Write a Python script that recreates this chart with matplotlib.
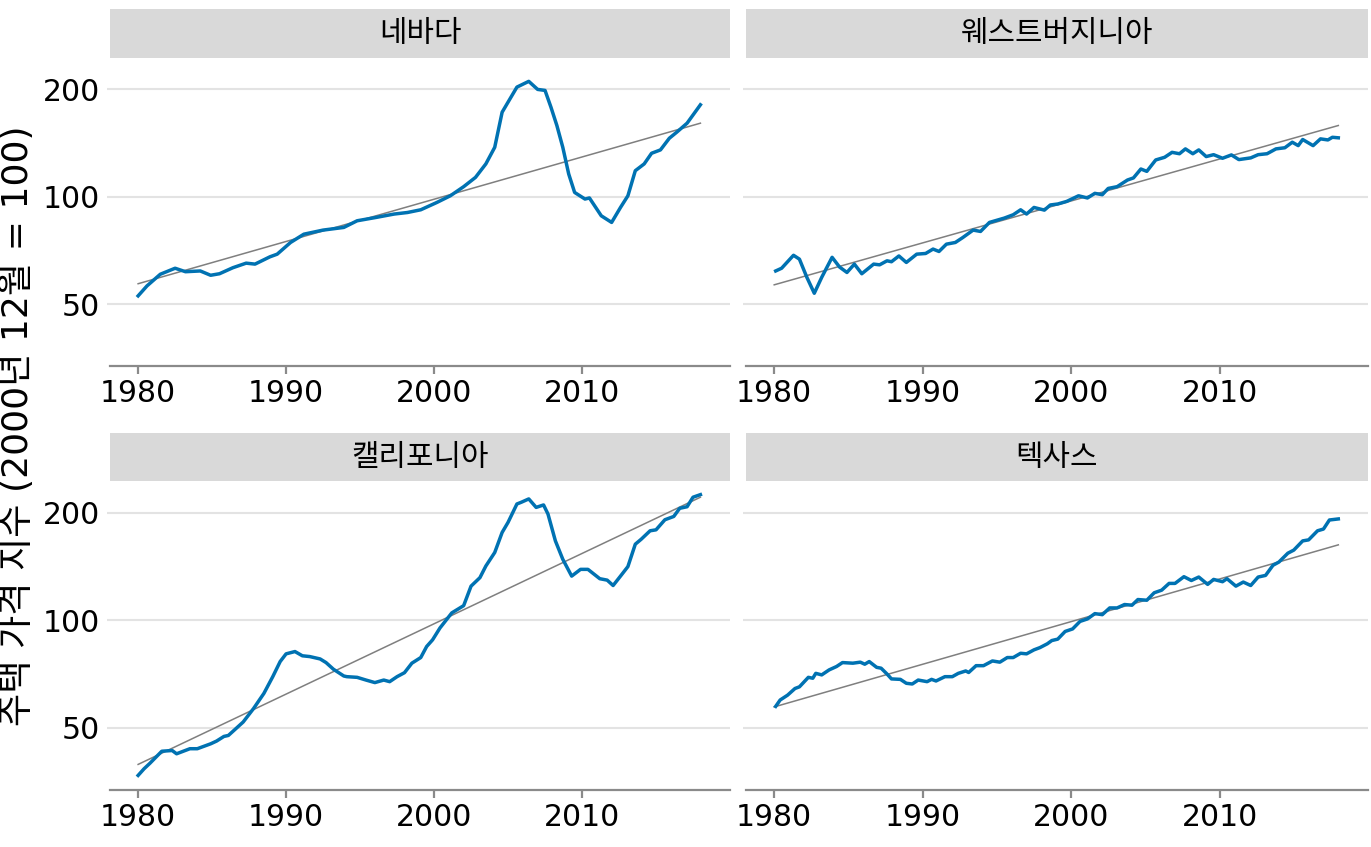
import matplotlib
matplotlib.use("Agg")
import matplotlib.pyplot as plt
from matplotlib.ticker import FixedLocator, NullLocator

# ---------------- data ----------------
states = ["네바다", "웨스트버지니아", "캘리포니아", "텍사스"]

nv_year = [1980.0, 1980.6, 1981.5, 1982.5, 1983.2, 1984.2, 1984.9, 1985.5, 1986.4, 1987.3,
           1987.9, 1988.9, 1989.4, 1990.3, 1991.2, 1992.5, 1993.9, 1994.8, 1996.1, 1997.3,
           1998.2, 1999.1, 2000.2, 2001.1, 2002.0, 2002.8, 2003.5, 2004.1, 2004.6, 2005.0,
           2005.6, 2006.4, 2007.0, 2007.5, 2007.9, 2008.3, 2008.7, 2009.1, 2009.5, 2010.2,
           2010.5, 2011.3, 2012.0, 2012.6, 2013.1, 2013.6, 2014.2, 2014.7, 2015.3, 2015.9,
           2016.4, 2017.1, 2018.0]
nv_index = [52.7, 56.2, 60.6, 63.0, 61.6, 61.9, 60.2, 60.8, 63.2, 65.1,
            64.7, 67.8, 69.0, 74.4, 78.5, 80.6, 82.0, 85.6, 87.5, 89.4,
            90.3, 91.9, 96.4, 100.6, 106.7, 113.3, 123.6, 137.6, 172.6, 184.2,
            203.0, 210.7, 200.0, 198.7, 178.3, 158.4, 137.6, 115.8, 102.8, 98.5,
            99.2, 88.4, 84.7, 93.3, 100.6, 118.3, 123.6, 132.4, 135.3, 145.9,
            151.7, 160.8, 181.1]

wv_year = [1980.1, 1980.5, 1981.3, 1981.7, 1982.2, 1982.7, 1983.2, 1983.9, 1984.4, 1984.9,
           1985.4, 1985.9, 1986.7, 1987.1, 1987.6, 1987.9, 1988.4, 1988.9, 1989.6, 1990.2,
           1990.7, 1991.1, 1991.6, 1992.2, 1992.7, 1993.4, 1993.9, 1994.5, 1995.5, 1996.1,
           1996.6, 1997.0, 1997.5, 1998.2, 1998.6, 1999.1, 1999.7, 2000.5, 2001.1, 2001.6,
           2002.1, 2002.5, 2003.1, 2003.8, 2004.2, 2004.7, 2005.1, 2005.7, 2006.3, 2006.8,
           2007.3, 2007.7, 2008.2, 2008.6, 2009.1, 2009.6, 2010.2, 2010.8, 2011.3, 2012.1,
           2012.6, 2013.2, 2013.8, 2014.4, 2014.9, 2015.3, 2015.6, 2016.3, 2016.8, 2017.3,
           2017.6, 2018.0]
wv_index = [61.9, 63.0, 68.5, 66.8, 59.4, 53.6, 59.4, 67.6, 63.5, 61.3,
            64.7, 60.8, 64.7, 64.4, 66.1, 65.7, 68.2, 65.4, 69.0, 69.3,
            71.3, 70.2, 73.6, 74.4, 76.8, 80.6, 79.9, 84.7, 87.1, 89.0,
            91.9, 89.4, 93.3, 91.7, 94.8, 95.4, 97.0, 100.6, 99.2, 102.2,
            101.3, 105.5, 106.7, 111.4, 112.9, 119.6, 117.8, 126.8, 129.0, 133.2,
            132.0, 136.2, 132.0, 135.3, 129.6, 131.2, 128.2, 131.0, 127.1, 128.5,
            131.2, 132.0, 136.2, 137.2, 142.2, 139.1, 144.7, 139.1, 145.3, 144.3,
            146.8, 146.3]

ca_year = [1980.0, 1980.4, 1980.8, 1981.6, 1982.3, 1982.6, 1983.5, 1984.0, 1984.9, 1985.3,
           1985.8, 1986.1, 1986.6, 1987.1, 1987.8, 1988.5, 1989.1, 1989.6, 1990.0, 1990.6,
           1991.1, 1991.6, 1992.3, 1992.7, 1993.2, 1993.9, 1994.1, 1994.8, 1995.4, 1996.0,
           1996.6, 1997.0, 1997.5, 1998.0, 1998.5, 1999.1, 1999.5, 1999.9, 2000.4, 2001.2,
           2002.0, 2002.5, 2003.1, 2003.5, 2004.1, 2004.6, 2005.0, 2005.6, 2005.9, 2006.4,
           2006.9, 2007.4, 2007.7, 2008.2, 2008.7, 2009.3, 2009.9, 2010.4, 2011.2, 2011.7,
           2012.1, 2012.6, 2013.1, 2013.6, 2014.0, 2014.6, 2015.0, 2015.6, 2016.2, 2016.6,
           2017.1, 2017.5, 2018.0]
ca_index = [36.8, 38.4, 39.8, 43.0, 43.2, 42.3, 43.7, 43.7, 45.1, 45.9,
            47.3, 47.6, 49.7, 51.9, 56.6, 62.4, 69.5, 76.6, 80.5, 81.7,
            79.5, 79.1, 77.9, 76.1, 72.9, 69.8, 69.5, 69.2, 68.0, 66.9,
            68.0, 67.3, 69.5, 71.3, 75.8, 78.6, 84.4, 88.1, 95.1, 104.8,
            109.8, 124.5, 131.5, 141.7, 154.6, 175.9, 187.7, 211.3, 213.7, 218.3,
            206.7, 210.0, 198.0, 166.6, 148.0, 132.8, 138.7, 138.7, 130.6, 129.4,
            125.0, 132.8, 141.2, 163.1, 168.4, 177.8, 178.9, 190.9, 195.0, 205.5,
            207.6, 220.7, 224.4]

tx_year = [1980.1, 1980.4, 1980.9, 1981.4, 1981.7, 1982.3, 1982.6, 1982.8, 1983.2, 1983.7,
           1984.2, 1984.6, 1985.3, 1985.8, 1986.1, 1986.4, 1986.9, 1987.2, 1987.6, 1987.9,
           1988.5, 1988.9, 1989.3, 1989.7, 1990.3, 1990.6, 1990.9, 1991.5, 1992.0, 1992.4,
           1992.9, 1993.1, 1993.6, 1994.1, 1994.7, 1995.2, 1995.7, 1996.1, 1996.6, 1997.0,
           1997.5, 1997.9, 1998.4, 1998.7, 1999.1, 1999.6, 2000.1, 2000.6, 2001.1, 2001.6,
           2002.1, 2002.6, 2003.1, 2003.6, 2004.1, 2004.5, 2005.1, 2005.6, 2006.1, 2006.6,
           2007.0, 2007.6, 2008.1, 2008.6, 2009.2, 2009.6, 2010.2, 2010.5, 2011.1, 2011.6,
           2012.1, 2012.6, 2013.1, 2013.6, 2014.0, 2014.6, 2015.0, 2015.6, 2016.0, 2016.6,
           2017.0, 2017.4, 2018.0]
tx_index = [57.4, 59.8, 61.7, 64.4, 65.1, 69.2, 68.8, 71.0, 70.3, 72.6,
            74.2, 76.1, 75.8, 76.3, 75.3, 76.6, 73.8, 73.4, 70.7, 68.5,
            68.3, 66.6, 66.3, 68.0, 67.3, 68.3, 67.6, 69.5, 69.5, 71.0,
            72.1, 71.4, 74.6, 74.6, 76.9, 76.3, 78.6, 78.6, 80.8, 80.5,
            82.6, 83.8, 85.9, 87.7, 88.5, 93.0, 94.5, 99.2, 100.8, 104.3,
            103.6, 108.2, 108.2, 110.6, 110.1, 114.2, 113.7, 119.3, 121.3, 126.7,
            126.7, 132.3, 129.1, 132.0, 125.9, 130.0, 128.1, 130.6, 124.5, 127.8,
            125.0, 132.0, 133.4, 142.4, 145.4, 153.9, 157.0, 166.6, 167.7, 177.8,
            179.8, 190.6, 191.9]

trend_years = [1980.0, 2018.0]
trend_start = [57.0, 56.6, 39.5, 57.2]
trend_end = [160.8, 158.4, 220.7, 162.4]

y_ticks = [50, 100, 200]
y_tick_labels = ["50", "100", "200"]
x_ticks = [1980, 1990, 2000, 2010]
x_tick_labels = ["1980", "1990", "2000", "2010"]
y_label = "주택 가격 지수 (2000년 12월 = 100)"

series = [(nv_year, nv_index), (wv_year, wv_index), (ca_year, ca_index), (tx_year, tx_index)]

# ---------------- layout ----------------
W, H = 1371, 847
fig = plt.figure(figsize=(W / 100, H / 100), dpi=100)

KR = ["Noto Sans CJK KR", "DejaVu Sans"]
LAT_KR = ["DejaVu Sans", "Noto Sans CJK KR"]
FS = 21.5

def box(l, t, r, b):
    return [l / W, 1 - b / H, (r - l) / W, (b - t) / H]

panels = [(110, 58, 730, 366), (746, 58, 1368, 366),
          (110, 481, 730, 790), (746, 481, 1368, 790)]
strips = [(110, 9, 730, 58), (746, 9, 1368, 58),
          (110, 433, 730, 481), (746, 433, 1368, 481)]

blue = "#0072B2"
grid_c = "#e3e3e3"
axis_c = "#8a8a8a"

for i, (name, (yrs, vals)) in enumerate(zip(states, series)):
    ax = fig.add_axes(box(*panels[i]))
    ax.set_yscale("log")
    ax.plot(trend_years, [trend_start[i], trend_end[i]], color="#7f7f7f", lw=1.1, zorder=2)
    ax.plot(yrs, vals, color=blue, lw=2.5, zorder=3, solid_joinstyle="round")
    ax.set_xlim(1978.1, 2020.0)
    ax.set_ylim(33.5, 245)
    ax.yaxis.set_major_locator(FixedLocator(y_ticks))
    ax.yaxis.set_minor_locator(NullLocator())
    ax.xaxis.set_major_locator(FixedLocator(x_ticks))
    ax.xaxis.set_minor_locator(NullLocator())
    ax.set_xticklabels(x_tick_labels)
    if i % 2 == 0:
        ax.set_yticklabels(y_tick_labels)
    else:
        ax.set_yticklabels([])
    ax.grid(axis="y", color=grid_c, lw=1.5, zorder=0)
    ax.grid(axis="x", visible=False)
    for s in ["top", "right", "left"]:
        ax.spines[s].set_visible(False)
    ax.spines["bottom"].set_color(axis_c)
    ax.spines["bottom"].set_linewidth(1.6)
    ax.tick_params(axis="x", colors=axis_c, length=5.5, width=1.6, labelsize=FS,
                   labelcolor="black", pad=4)
    ax.tick_params(axis="y", colors=grid_c, length=2, width=1.5, labelsize=FS,
                   labelcolor="black", pad=5)
    ax.set_facecolor("white")

    sax = fig.add_axes(box(*strips[i]))
    sax.set_facecolor("#d9d9d9")
    sax.set_xticks([]); sax.set_yticks([])
    for s in sax.spines.values():
        s.set_visible(False)
    sax.text(0.5, 0.5, name, ha="center", va="center", fontsize=FS,
             family=KR, transform=sax.transAxes)

fig.text(18 / W, 1 - 426 / H, y_label, rotation=90, ha="center", va="center",
         fontsize=26, family=LAT_KR)

fig.savefig("out.png", dpi=100, facecolor="white")
